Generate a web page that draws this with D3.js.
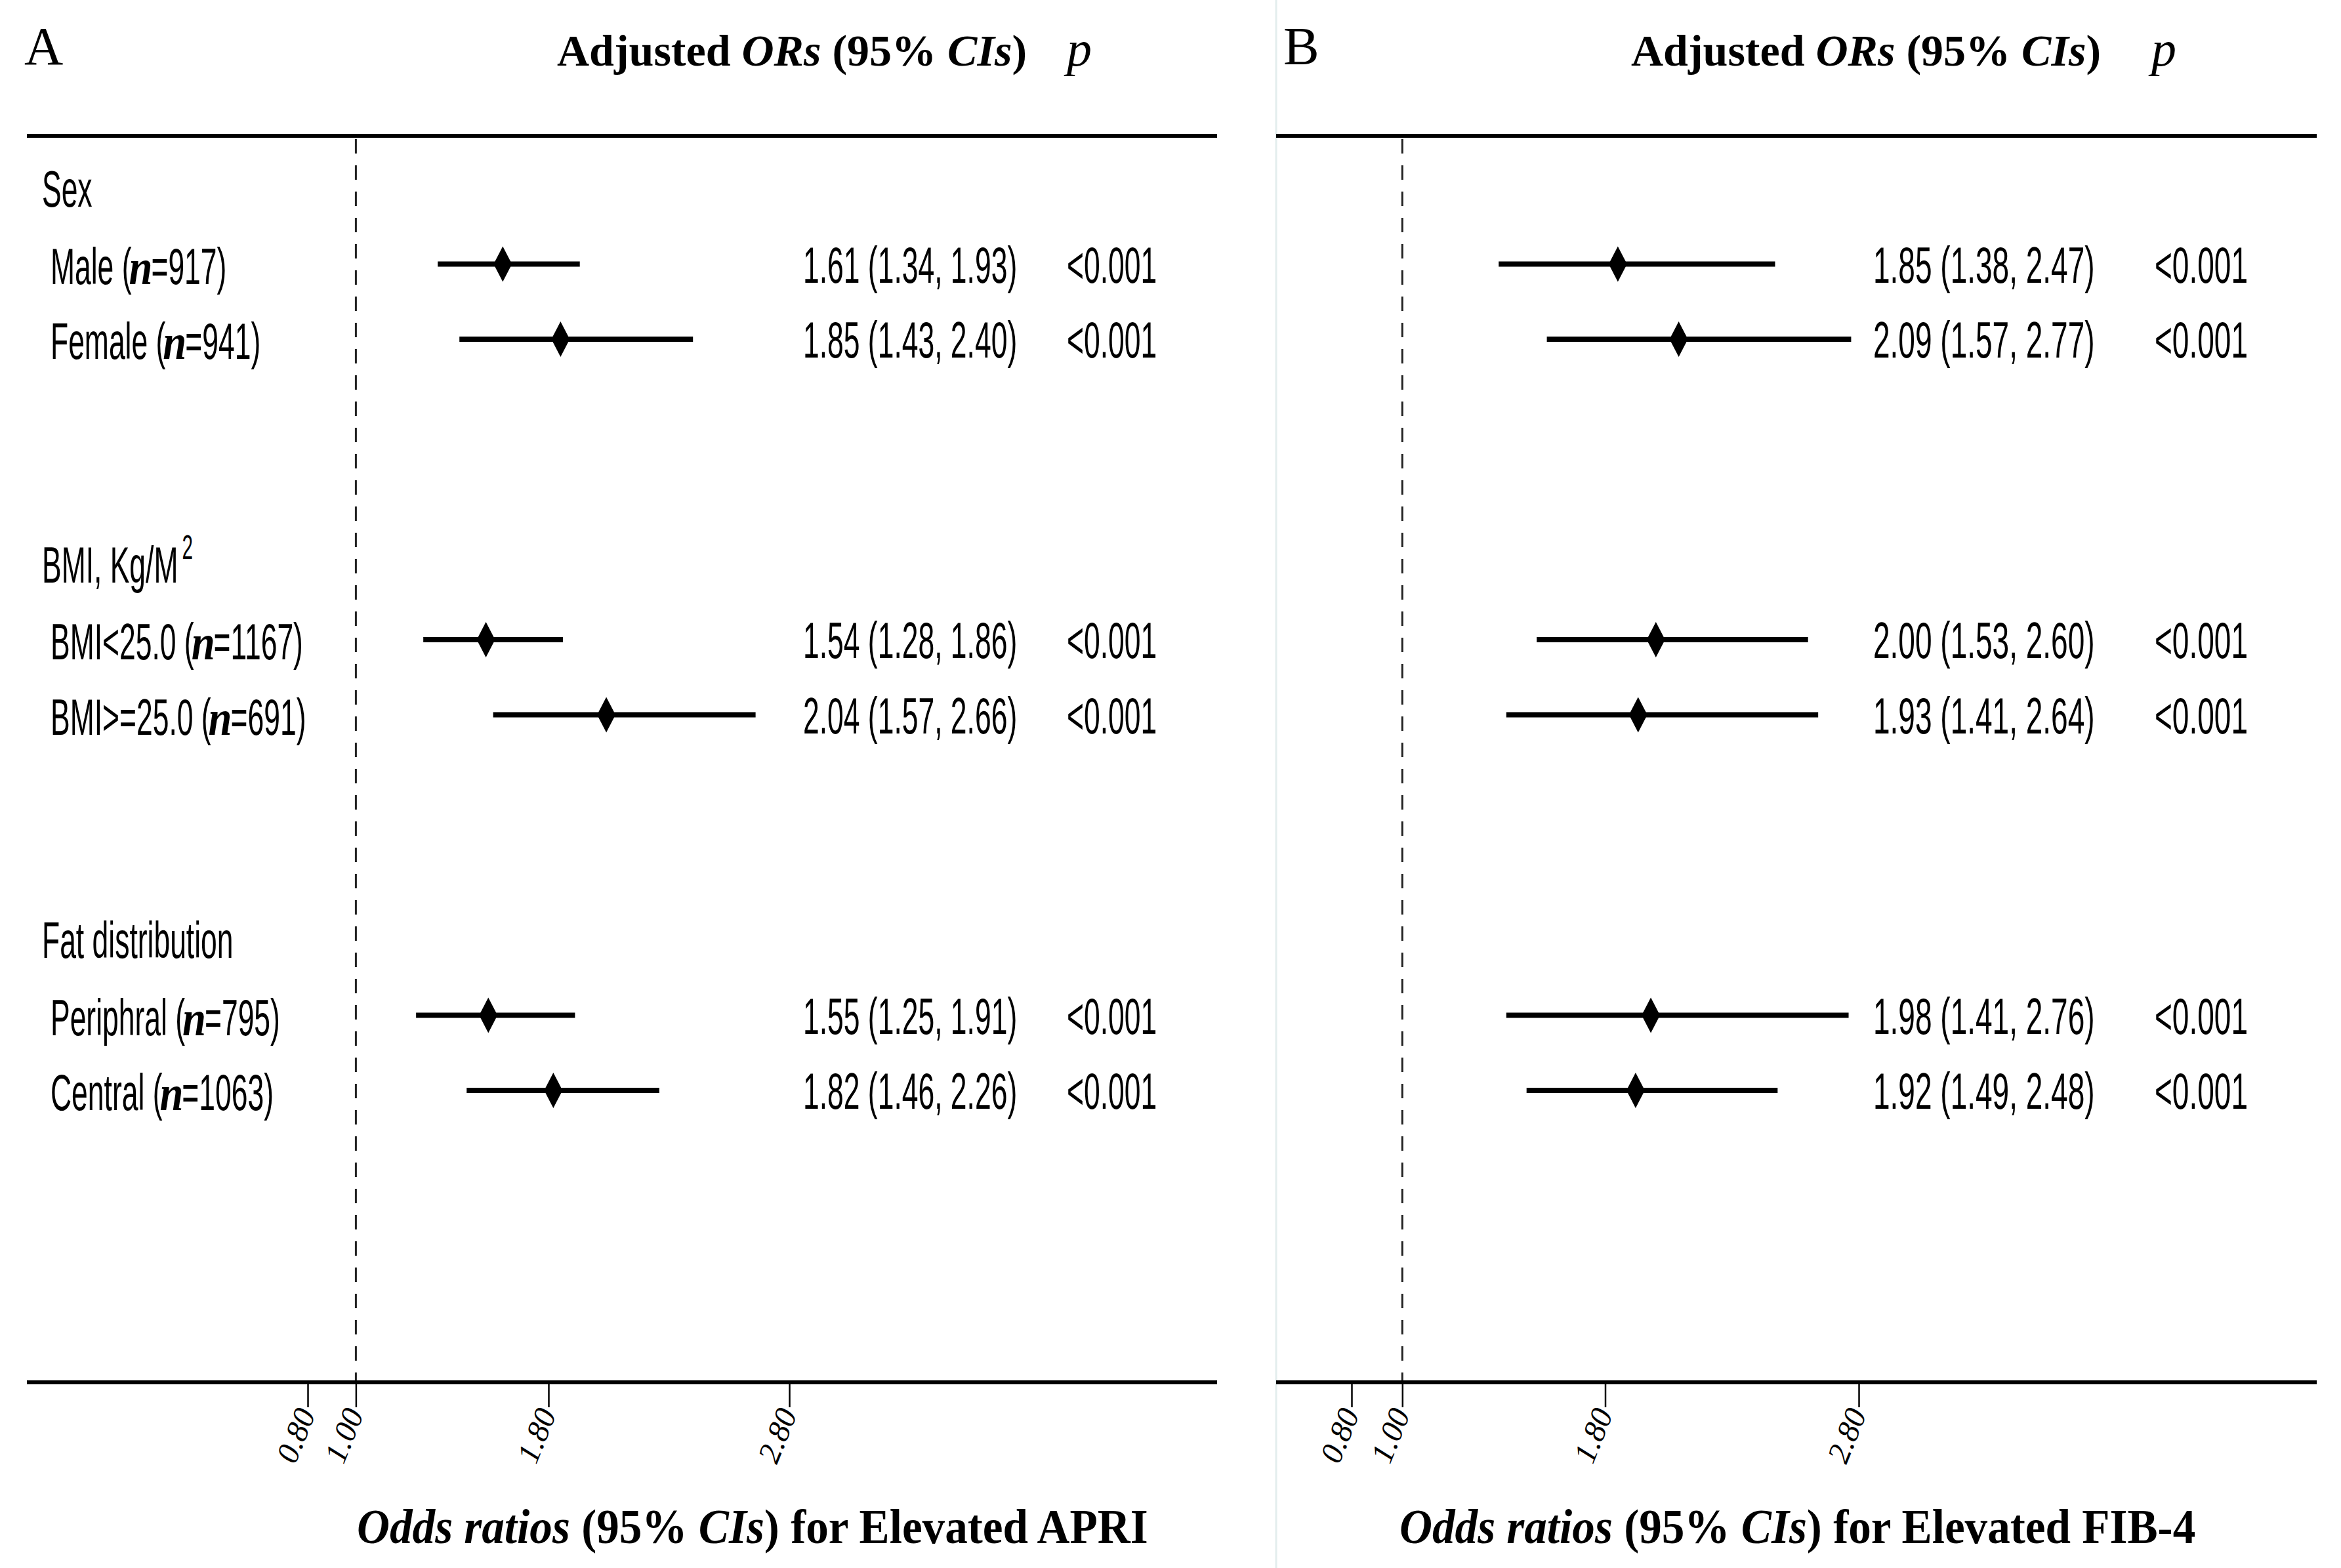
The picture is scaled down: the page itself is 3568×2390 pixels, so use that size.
<!DOCTYPE html>
<html>
<head>
<meta charset="utf-8">
<script src="https://cdn.jsdelivr.net/npm/d3@7"></script>
<style>
  body { margin: 0; background: #fff; }
  text { white-space: pre; }
</style>
</head>
<body>
<svg id="chart"></svg>
<script>
// Subgroups and their sample sizes
var groupNames = ["Sex", "BMI, Kg/M", "Fat distribution"];
var subgroups = ["Male", "Female", "BMI<25.0", "BMI>=25.0", "Periphral", "Central"];
var sampleN = [917, 941, 1167, 691, 795, 1063];
var subgroupOf = [0, 0, 1, 1, 2, 2];

// Panel A: elevated APRI
var apriOR = [1.61, 1.85, 1.54, 2.04, 1.55, 1.82];
var apriLow = [1.34, 1.43, 1.28, 1.57, 1.25, 1.46];
var apriHigh = [1.93, 2.40, 1.86, 2.66, 1.91, 2.26];
var apriP = ["<0.001", "<0.001", "<0.001", "<0.001", "<0.001", "<0.001"];

// Panel B: elevated FIB-4
var fibOR = [1.85, 2.09, 2.00, 1.93, 1.98, 1.92];
var fibLow = [1.38, 1.57, 1.53, 1.41, 1.41, 1.49];
var fibHigh = [2.47, 2.77, 2.60, 2.64, 2.76, 2.48];
var fibP = ["<0.001", "<0.001", "<0.001", "<0.001", "<0.001", "<0.001"];

var tickValues = [0.80, 1.00, 1.80, 2.80];

var W = 3568, H = 2390;
var SANS = "'Liberation Sans', Arial, sans-serif";
var SERIF = "'Liberation Serif', 'Times New Roman', serif";

var svg = d3.select("#chart").attr("width", W).attr("height", H);
svg.append("rect").attr("width", W).attr("height", H).attr("fill", "#fff");

// slot index for each row: header, item, item, gap, gap, header ...
var y = d3.scaleLinear().domain([0, 1]).range([288, 402.5]);
function itemSlot(i) { return subgroupOf[i] * 5 + (i % 2) + 1; }

// draw a run of differently styled text pieces, each with its own horizontal squeeze
function runs(g, x, yy, parts) {
  var cx = 0;
  parts.forEach(function(p) {
    var sx = p.sx || 1;
    var t = g.append("text")
        .attr("xml:space", "preserve")
        .attr("transform", "translate(" + (x + cx + (p.dx || 0)) + "," + (yy + (p.dy || 0)) + ") scale(" + sx + ",1)")
        .attr("font-family", p.font || SANS)
        .attr("font-size", p.size || 78)
        .attr("font-style", p.style || "normal")
        .attr("font-weight", p.weight || "normal")
        .attr("fill", "#000")
        .text(p.t);
    cx += t.node().getComputedTextLength() * sx + (p.dx || 0);
  });
  return cx;
}

var SQ = 0.57;

function panel(cfg) {
  var g = svg.append("g");
  var x = d3.scaleLinear().domain([0.8, 2.8]).range(cfg.range);

  // panel letter
  g.append("text").attr("x", cfg.letterX).attr("y", 98)
      .attr("font-family", SERIF).attr("font-size", 82).text(cfg.letter);

  // column headers
  runs(g, cfg.headX, 100, [
    {t: "Adjusted ", font: SERIF, size: 68, weight: "bold"},
    {t: "ORs", font: SERIF, size: 68, weight: "bold", style: "italic"},
    {t: " (95% ", font: SERIF, size: 68, weight: "bold"},
    {t: "CIs", font: SERIF, size: 68, weight: "bold", style: "italic"},
    {t: ")", font: SERIF, size: 68, weight: "bold"}
  ]);
  g.append("text").attr("x", cfg.pHeadX).attr("y", 100)
      .attr("font-family", SERIF).attr("font-size", 76).attr("font-style", "italic").text("p");

  // top rule
  g.append("line").attr("x1", cfg.left).attr("x2", cfg.right)
      .attr("y1", 207).attr("y2", 207).attr("stroke", "#000").attr("stroke-width", 6);

  // reference line at OR = 1
  g.append("line").attr("x1", x(1)).attr("x2", x(1))
      .attr("y1", 212).attr("y2", 2107)
      .attr("stroke", "#222").attr("stroke-width", 3).attr("stroke-dasharray", "22,18");

  // x axis
  var axis = d3.axisBottom(x).tickValues(tickValues).tickSize(38).tickFormat(d3.format(".2f"));
  var ax = g.append("g").attr("transform", "translate(0,2107)").call(axis);
  ax.select(".domain").remove();
  ax.selectAll(".tick line").attr("stroke", "#000").attr("stroke-width", 2.5);
  ax.selectAll(".tick text")
      .attr("font-family", SERIF).attr("font-size", 48).attr("font-style", "italic")
      .attr("fill", "#000")
      .attr("text-anchor", "end")
      .attr("y", 0).attr("dy", 0)
      .attr("transform", "translate(12,48) rotate(-68)");
  g.append("line").attr("x1", cfg.left).attr("x2", cfg.right)
      .attr("y1", 2107).attr("y2", 2107).attr("stroke", "#000").attr("stroke-width", 6);

  // confidence intervals
  g.selectAll(".ci").data(cfg.or).enter().append("line")
      .attr("class", "ci")
      .attr("x1", function(d, i) { return x(cfg.low[i]); })
      .attr("x2", function(d, i) { return x(cfg.high[i]); })
      .attr("y1", function(d, i) { return y(itemSlot(i)); })
      .attr("y2", function(d, i) { return y(itemSlot(i)); })
      .attr("stroke", "#000").attr("stroke-width", 8);

  // point estimates as diamonds
  g.selectAll(".pt").data(cfg.or).enter().append("path")
      .attr("class", "pt")
      .attr("transform", function(d, i) { return "translate(" + x(d) + "," + y(itemSlot(i)) + ")"; })
      .attr("d", "M0,-27L14,0L0,27L-14,0Z")
      .attr("fill", "#000");

  // estimate text and p values
  var f = d3.format(".2f");
  cfg.or.forEach(function(d, i) {
    var yy = y(itemSlot(i)) + 28;
    runs(g, cfg.orX, yy, [{t: f(d) + " (" + f(cfg.low[i]) + ", " + f(cfg.high[i]) + ")", sx: cfg.sq}]);
    runs(g, cfg.pX, yy, [{t: cfg.p[i], sx: cfg.sq}]);
  });

  // axis title
  var ts = 0.935;
  runs(g, cfg.titleX, 2352, [
    {t: "Odds ratios", font: SERIF, size: 74, weight: "bold", style: "italic", sx: ts},
    {t: " (95% ", font: SERIF, size: 74, weight: "bold", sx: ts},
    {t: "CIs", font: SERIF, size: 74, weight: "bold", style: "italic", sx: ts},
    {t: ") for Elevated " + cfg.index, font: SERIF, size: 74, weight: "bold", sx: ts}
  ]);
  return g;
}

// faint divider between panels
svg.append("line").attr("x1", 1945).attr("x2", 1945).attr("y1", 0).attr("y2", H)
    .attr("stroke", "#e4eeee").attr("stroke-width", 3);

panel({letter: "A", letterX: 37, headX: 849, pHeadX: 1626, left: 41, right: 1855,
  range: [469, 1203], or: apriOR, low: apriLow, high: apriHigh, p: apriP,
  orX: 1224, pX: 1626, sq: 0.57, titleX: 544, index: "APRI"});
panel({letter: "B", letterX: 1956, headX: 2486, pHeadX: 3279, left: 1945, right: 3531,
  range: [2060, 2833], or: fibOR, low: fibLow, high: fibHigh, p: fibP,
  orX: 2855, pX: 3284, sq: 0.59, titleX: 2133, index: "FIB-4"});

// row labels (panel A only)
var lab = svg.append("g");
groupNames.forEach(function(name, k) {
  var parts = [{t: name, sx: SQ}];
  if (k === 1) parts.push({t: "2", sx: SQ, size: 52, dy: -36, dx: 6});
  runs(lab, 64, y(k * 5) + 27, parts);
});
subgroups.forEach(function(name, i) {
  runs(lab, 77, y(itemSlot(i)) + 30, [
    {t: name + " (", sx: SQ},
    {t: "n", font: SERIF, size: 76, weight: "bold", style: "italic", sx: 0.85, dx: -4},
    {t: "=" + sampleN[i] + ")", sx: SQ, dx: -2}
  ]);
});
</script>
</body>
</html>
